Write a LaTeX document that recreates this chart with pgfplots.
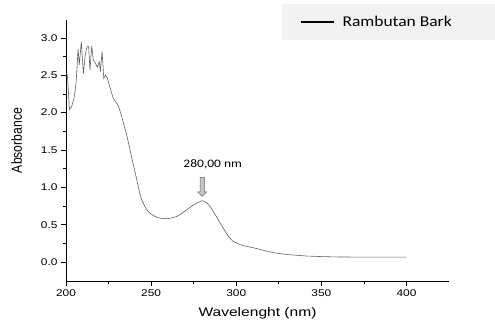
\documentclass[border=0pt]{standalone}
\usepackage{graphicx}
\usepackage{pgfplots}
\pgfplotsset{compat=1.18}
\usepackage{fontspec}
\setmainfont{Liberation Sans}
\newfontfamily\calibri{Carlito}
\usetikzlibrary{shapes.arrows}
\definecolor{curvecol}{RGB}{95,95,95}
\definecolor{legfill}{RGB}{242,242,242}
\newcommand\sx[1]{\scalebox{1.22}[1]{#1}}
\begin{document}
\begin{tikzpicture}[x=1bp,y=1bp]
\useasboundingbox (0,0) rectangle (495,327);
\begin{axis}[
  at={(66bp,46bp)}, anchor=south west,
  scale only axis, width=383bp, height=261bp,
  xmin=200, xmax=425, ymin=-0.254, ymax=3.24,
  axis lines*=left,
  axis line style={black, line width=0.7pt},
  tick align=outside,
  major tick length=5bp, minor tick length=3bp,
  xtick={200,250,300,350,400},
  xticklabels={\sx{200},\sx{250},\sx{300},\sx{350},\sx{400}},
  ytick={0,0.5,1,1.5,2,2.5,3},
  yticklabels={\sx{0.0},\sx{0.5},\sx{1.0},\sx{1.5},\sx{2.0},\sx{2.5},\sx{3.0}},
  minor x tick num=1, minor y tick num=1,
  tick style={black, line width=0.6pt},
  xticklabel style={font=\fontsize{9.8}{11}\selectfont},
  yticklabel style={font=\fontsize{9.8}{11}\selectfont},
  xlabel={\scalebox{1.25}[1]{Wavelenght (nm)}},
  ylabel={\scalebox{1}[1.2]{Absorbance}},
  every axis x label/.style={at={(rel axis cs:0.5,-0.1226)}, anchor=center, font=\fontsize{12.5}{14}\selectfont},
  every axis y label/.style={at={(rel axis cs:-0.1287,0.538)}, rotate=90, anchor=center, font=\fontsize{12.2}{14}\selectfont},
  legend style={at={(rel axis cs:1.1201,1.0613)}, anchor=north east, fill=legfill, draw=none,
    inner xsep=18bp, inner ysep=10bp, font=\calibri\fontsize{15}{17}\selectfont},
  clip=false,
]
\addplot[curvecol, line width=0.6pt, forget plot] coordinates {
(200,2.52) (200.6,2.52) (201,2.45) (202,2.04) (203.3,2.08) (204.7,2.19) (205.9,2.39)
(207.1,2.85) (207.8,2.64) (209,2.95) (210.2,2.52) (211.4,2.79) (212.5,2.89)
(213.3,2.89) (214.1,2.57) (215.1,2.89) (216.1,2.70) (217.3,2.66) (218.4,2.61)
(219.6,2.68) (220.2,2.55) (221.2,2.82) (222.2,2.46) (223.2,2.50) (224.3,2.46)
(225.9,2.33) (227.8,2.19) (229,2.15) (230.8,2.09) (232.7,1.95) (235.7,1.70)
(237.6,1.50) (239.6,1.30) (241.6,1.10) (243,0.95) (244.5,0.83) (246.4,0.74) (248.4,0.67)
(250.8,0.63) (253.3,0.60) (256.2,0.585) (259.2,0.58) (262,0.59) (265.1,0.61) (268,0.65)
(271,0.70) (274,0.75) (276.9,0.79) (279.8,0.82) (281.3,0.815) (282.8,0.79) (284.8,0.74)
(286.7,0.67) (288.6,0.60) (290.6,0.52) (293,0.43) (295.5,0.34) (298,0.28) (300.4,0.25)
(304,0.22) (308.2,0.20) (312.2,0.18) (317,0.15) (322,0.125) (330,0.10) (341.6,0.08)
(350,0.073) (361.2,0.067) (380,0.066) (400,0.066)
};
\addlegendimage{legend image code/.code={\draw[black, line width=1.8pt] (0bp,0bp) -- (33bp,0bp);}}
\addlegendentry{\hspace*{6bp}\scalebox{1.17}[1]{Rambutan Bark}\hspace*{23bp}}
\node[single arrow, draw=gray!80!black, fill=gray!45, rotate=-90, minimum height=19bp,
  minimum width=9bp, single arrow head extend=2bp, single arrow head indent=0bp,
  inner sep=1.5bp, line width=0.5pt] at (axis cs:280,1.02) {};
\node[font=\calibri\fontsize{11.5}{13}\selectfont] at (axis cs:286.2,1.305) {\scalebox{1.18}[1]{280,00 nm}};
\end{axis}
\end{tikzpicture}
\end{document}
